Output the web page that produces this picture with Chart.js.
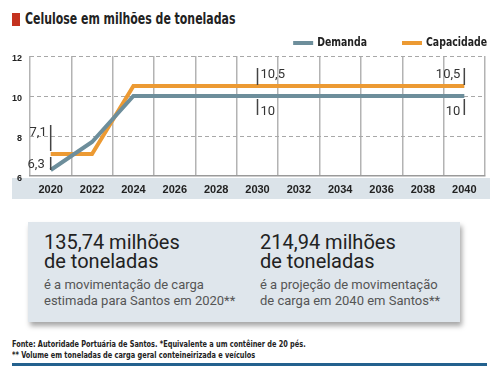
<!DOCTYPE html>
<html>
<head>
<meta charset="utf-8">
<title>Celulose em milhões de toneladas</title>
<script src="https://cdn.jsdelivr.net/npm/chart.js@4.4.0/dist/chart.umd.min.js"></script>
<style>
  body { margin: 0; background: #fff; width: 499px; height: 377px; position: relative; overflow: hidden; }
  .sq { position: absolute; left: 12px; top: 13px; width: 8px; height: 13px; background: #c4321f; }
  .titulo { position: absolute; left: 25px; top: 9px; font: bold 16px "Liberation Sans Narrow", "DejaVu Sans Condensed", sans-serif; color: #222; transform: scaleX(0.76); transform-origin: 0 0; white-space: nowrap; }
  #wrap { position: absolute; left: 0; top: 30px; width: 499px; height: 175px; }
  .caixa { position: absolute; left: 28px; top: 222px; width: 432px; height: 100px; background: #dfe6ec; box-shadow: 2px 4px 5px rgba(0,0,0,0.35); }
  .col { position: absolute; top: 11px; font-family: Roboto, sans-serif; }
  .big { font-size: 20px; line-height: 19px; color: #222; }
  .sub { font-size: 13px; line-height: 15.5px; color: #555; margin-top: 6px; }
  .rodape { position: absolute; left: 12px; top: 339px; font: bold 9px/11px "Liberation Sans Narrow", "DejaVu Sans Condensed", sans-serif; color: #222; transform: scaleX(0.81); transform-origin: 0 0; white-space: nowrap; }
  .linha { position: absolute; left: 12px; top: 363px; width: 475px; height: 3px; background: #23618e; }
</style>
</head>
<body>
<div class="sq"></div>
<div class="titulo">Celulose em milhões de toneladas</div>
<div id="wrap"><canvas id="grafico"></canvas></div>
<div class="caixa">
  <div class="col" style="left:16px"><div class="big">135,74 milhões<br>de toneladas</div><div class="sub">é a movimentação de carga<br>estimada para Santos em 2020**</div></div>
  <div class="col" style="left:232px"><div class="big">214,94 milhões<br>de toneladas</div><div class="sub">é a projeção de movimentação<br>de carga em 2040 em Santos**</div></div>
</div>
<div class="rodape">Fonte: Autoridade Portuária de Santos. *Equivalente a um contêiner de 20 pés.<br>** Volume em toneladas de carga geral conteineirizada e veículos</div>
<div class="linha"></div>
<script>
const anos = ['2020', '2022', '2024', '2026', '2028', '2030', '2032', '2034', '2036', '2038', '2040'];
const demanda = [6.3, 7.7, 10, 10, 10, 10, 10, 10, 10, 10, 10];
const capacidade = [7.1, 7.1, 10.5, 10.5, 10.5, 10.5, 10.5, 10.5, 10.5, 10.5, 10.5];
const yTicks = [6, 8, 10, 12];

// rótulos de valor: [dataset, índice, texto]
const rotulos = [
  [1, 0, '7,1'], [0, 0, '6,3'],
  [1, 5, '10,5'], [0, 5, '10'],
  [1, 10, '10,5'], [0, 10, '10']
];

const AZUL = '#6d8e9b';
const LARANJA = '#ec9a33';
const narrow = '"Liberation Sans Narrow", "DejaVu Sans Condensed", sans-serif';

// faixa cinza-azulada atrás dos anos
const faixa = {
  id: 'faixa',
  beforeDraw(chart) {
    const { ctx, chartArea } = chart;
    ctx.save();
    ctx.fillStyle = '#dbe3e9';
    ctx.fillRect(12, chartArea.bottom + 2, 478, 21);
    ctx.restore();
  }
};

// legenda no canto superior direito, texto estreito
const legenda = {
  id: 'legenda',
  afterDraw(chart) {
    const { ctx } = chart;
    const sx = 0.8;
    ctx.save();
    ctx.font = 'bold 13px ' + narrow;
    ctx.textBaseline = 'middle';
    ctx.fillStyle = '#222';
    let right = 487;
    const ds = chart.data.datasets.slice().reverse();
    ds.forEach(d => {
      const w = ctx.measureText(d.label).width * sx;
      const tx = right - w;
      ctx.fillStyle = d.borderColor;
      ctx.fillRect(tx - 24, 11, 20, 4);
      ctx.fillStyle = '#222';
      ctx.save();
      ctx.translate(tx, 13);
      ctx.scale(sx, 1);
      ctx.fillText(d.label, 0, 0);
      ctx.restore();
      right = tx - 24 - 35;
    });
    ctx.restore();
  }
};

// marcas e valores nos pontos
const marcas = {
  id: 'marcas',
  afterDatasetsDraw(chart) {
    const { ctx } = chart;
    const x = chart.scales.x, y = chart.scales.y;
    const ds = [demanda, capacidade];
    ctx.save();
    ctx.strokeStyle = '#444';
    ctx.lineWidth = 1.5;
    ctx.fillStyle = '#333';
    ctx.font = '13px Roboto, sans-serif';
    ctx.textBaseline = 'middle';
    rotulos.forEach(([d, i, txt]) => {
      const px = x.getPixelForValue(i);
      const py = y.getPixelForValue(ds[d][i]);
      const acima = d === 1;
      let y0, y1, ly, dx = 4;
      if (i === 0) {
        if (acima) { y0 = py - 29; y1 = py - 3; ly = py - 21; }
        else { y0 = py - 13; y1 = py; ly = py - 5; dx = 6; }
      } else if (acima) { y0 = py - 18; y1 = py - 1; ly = py - 11; }
      else { y0 = py + 3; y1 = py + 19; ly = py + 16; }
      ctx.beginPath();
      ctx.moveTo(px, y0);
      ctx.lineTo(px, y1);
      ctx.stroke();
      if (i === 5) { ctx.textAlign = 'left'; ctx.fillText(txt, px + 3, ly); }
      else { ctx.textAlign = 'right'; ctx.fillText(txt, px - dx, ly); }
    });
    ctx.restore();
  }
};

new Chart(document.getElementById('grafico'), {
  type: 'line',
  data: {
    labels: anos,
    datasets: [
      { label: 'Demanda', data: demanda, borderColor: AZUL, backgroundColor: AZUL, borderWidth: 4, pointRadius: 0, tension: 0, fill: false },
      { label: 'Capacidade', data: capacidade, borderColor: LARANJA, backgroundColor: LARANJA, borderWidth: 4, pointRadius: 0, tension: 0, fill: false }
    ]
  },
  options: {
    responsive: true,
    maintainAspectRatio: false,
    animation: false,
    layout: { padding: { top: 26, right: 14, bottom: 6, left: 0 } },
    plugins: {
      tooltip: { enabled: false },
      legend: { display: false }
    },
    scales: {
      x: {
        type: 'category',
        offset: true,
        grid: { offset: true, color: '#b3b3b3', lineWidth: 1.5, drawTicks: false },
        border: { color: '#9a9a9a', width: 1.5 },
        ticks: { color: '#222', padding: 7, font: { family: 'Liberation Sans, Arial, sans-serif', size: 11, weight: 'bold' }, maxRotation: 0 },
        afterFit(s) { s.height = 23; }
      },
      y: {
        min: 6,
        max: 12,
        afterBuildTicks(s) { s.ticks = yTicks.map(v => ({ value: v })); },
        grid: { color: c => (c.tick && c.tick.value === 6 ? 'rgba(0,0,0,0)' : '#a8a8a8'), lineWidth: 1, drawTicks: false },
        border: { display: false, dash: [4, 3] },
        ticks: { color: '#222', padding: 8, labelOffset: 3, font: { family: 'Liberation Sans, Arial, sans-serif', size: 9, weight: 'bold' } },
        afterFit(s) { s.width = 30; }
      }
    }
  },
  plugins: [faixa, legenda, marcas]
});
</script>
</body>
</html>
